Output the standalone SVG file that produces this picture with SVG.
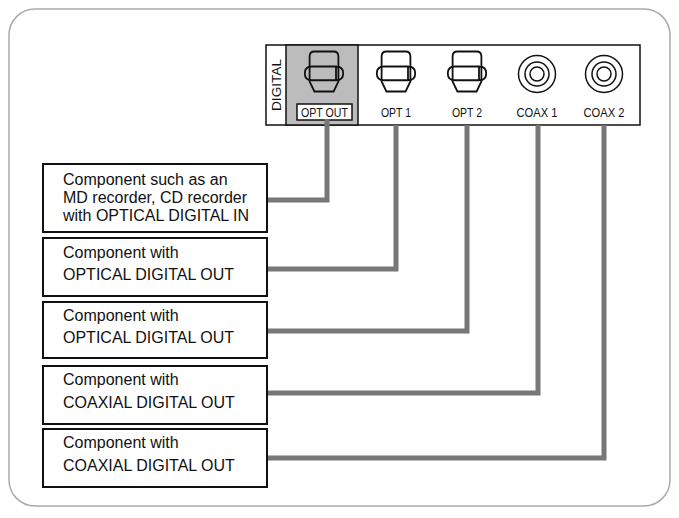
<svg xmlns="http://www.w3.org/2000/svg" width="679" height="518" viewBox="0 0 679 518">
<style>
.box{fill:#fff;stroke:#111;stroke-width:2}
.t{font-family:"Liberation Sans",Arial,sans-serif;font-size:16px;fill:#111}
.p{font-family:"Liberation Sans",Arial,sans-serif;font-size:13px;fill:#111}
.cab{fill:none;stroke:#777;stroke-width:5;stroke-linejoin:miter}
.j{fill:none;stroke:#111;stroke-width:1.5}
</style>
<defs>
<g id="opt">
<path class="j" d="M-12,-14 Q-12,-18 -8,-18 L8,-18 Q12,-18 12,-14 L12,6 L8,14 L-8,14 L-12,6 Z" fill="inherit"/>
<path class="j" d="M-10,-6 L10,-6 L10,5 L-10,5 Q-16,5 -16,-0.5 Q-16,-6 -10,-6 Z M10,-6 Q16,-6 16,-0.5 Q16,5 10,5"/>
</g>
<g id="coax">
<circle r="18.5" class="j"/><circle r="12" class="j"/><circle r="7" class="j"/>
</g>
</defs>
<rect x="9" y="9" width="661" height="497" rx="26" fill="#fff" stroke="#aaa" stroke-width="1.5"/>
<g id="panel">
<rect x="266" y="45" width="374" height="80" fill="#fff" stroke="#111" stroke-width="1.5"/>
<rect x="286" y="45" width="72" height="80" fill="#bcbcbc" stroke="#111" stroke-width="1.5"/>
<text class="p" transform="translate(281,85) rotate(-90)" text-anchor="middle" textLength="52" lengthAdjust="spacingAndGlyphs">DIGITAL</text>
<g transform="translate(324,74) scale(1.2,1.25)" fill="#fff"><use href="#opt"/></g>
<rect x="297" y="104" width="55" height="16" fill="#fff" stroke="#111" stroke-width="1.5"/>
<text class="p" x="324.5" y="117" text-anchor="middle" textLength="47" lengthAdjust="spacingAndGlyphs">OPT OUT</text>
<g transform="translate(396,74) scale(1.2,1.25)"><use href="#opt"/></g>
<text class="p" x="396" y="117" text-anchor="middle" textLength="30" lengthAdjust="spacingAndGlyphs">OPT 1</text>
<g transform="translate(467,74) scale(1.2,1.25)"><use href="#opt"/></g>
<text class="p" x="467" y="117" text-anchor="middle" textLength="30" lengthAdjust="spacingAndGlyphs">OPT 2</text>
<g transform="translate(537,74)"><use href="#coax"/></g>
<text class="p" x="537" y="117" text-anchor="middle" textLength="41" lengthAdjust="spacingAndGlyphs">COAX 1</text>
<g transform="translate(604,74)"><use href="#coax"/></g>
<text class="p" x="604" y="117" text-anchor="middle" textLength="41" lengthAdjust="spacingAndGlyphs">COAX 2</text>
</g>
<g id="connectors">
<path class="cab" d="M327,119 L327,200 L258,200"/>
<path class="cab" d="M396,125 L396,269 L258,269"/>
<path class="cab" d="M467,125 L467,331 L258,331"/>
<path class="cab" d="M538,125 L538,393 L258,393"/>
<path class="cab" d="M604,125 L604,458 L258,458"/>
</g>
<g id="n1"><rect class="box" x="43" y="164" width="224" height="68"/>
<text class="t" x="63" y="185">Component such as an</text><text class="t" x="63" y="203">MD recorder, CD recorder</text><text class="t" x="63" y="221">with OPTICAL DIGITAL IN</text></g>
<g id="n2"><rect class="box" x="43" y="238" width="224" height="58"/>
<text class="t" x="63" y="258">Component with</text><text class="t" x="63" y="280">OPTICAL DIGITAL OUT</text></g>
<g id="n3"><rect class="box" x="43" y="302" width="224" height="56"/>
<text class="t" x="63" y="321">Component with</text><text class="t" x="63" y="343">OPTICAL DIGITAL OUT</text></g>
<g id="n4"><rect class="box" x="43" y="366" width="224" height="58"/>
<text class="t" x="63" y="385">Component with</text><text class="t" x="63" y="408">COAXIAL DIGITAL OUT</text></g>
<g id="n5"><rect class="box" x="43" y="429" width="224" height="58"/>
<text class="t" x="63" y="448">Component with</text><text class="t" x="63" y="471">COAXIAL DIGITAL OUT</text></g>
</svg>
